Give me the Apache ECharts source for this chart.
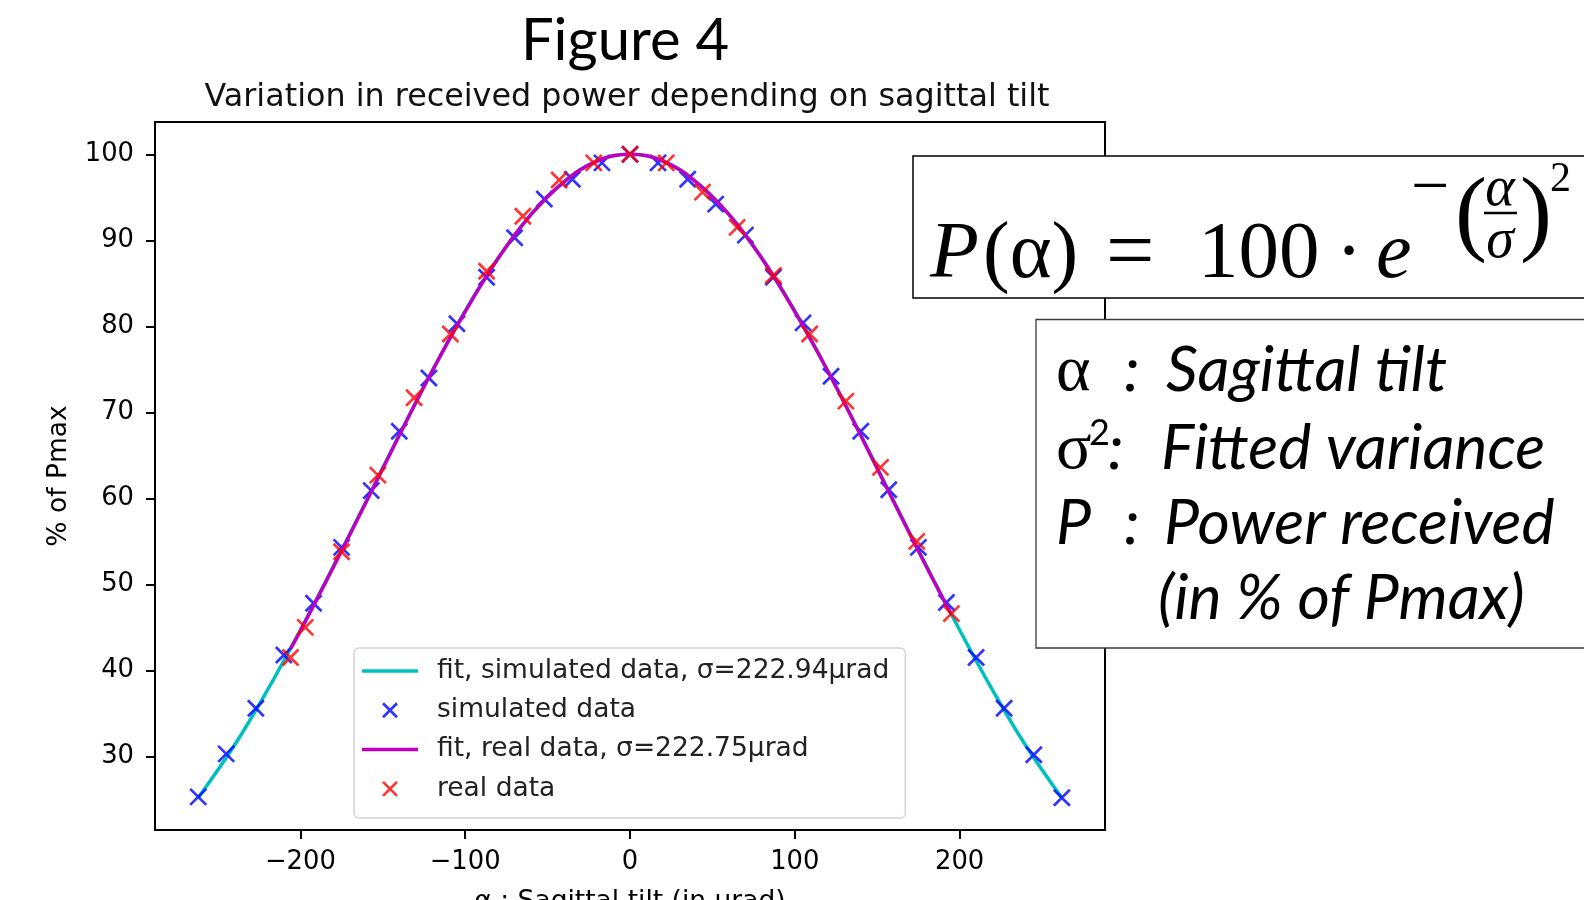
<!DOCTYPE html>
<html>
<head>
<meta charset="utf-8">
<title>Figure 4</title>
<script src="https://cdn.jsdelivr.net/npm/echarts@6/dist/echarts.min.js"></script>
<style>
  html, body { margin: 0; padding: 0; background: #fff; }
  #chart { width: 1584px; height: 900px; }
</style>
</head>
<body>
<div id="chart"></div>
<script>
// simulated data points (blue x)
const simX = [-262, -245, -227, -210, -192, -175, -157, -140, -122, -105, -87, -70, -52, -35, -17, 0,
  17, 35, 52, 70, 87, 105, 122, 140, 157, 175, 192, 210, 227, 245, 262];
const simY = [25.3, 30.3, 35.6, 41.8, 47.8, 54.3, 60.9, 67.8, 74.0, 80.3, 85.7, 90.3, 94.8, 97.1, 99.0, 100,
  99.0, 97.1, 94.2, 90.6, 85.7, 80.4, 74.2, 67.8, 61.0, 54.3, 47.9, 41.5, 35.6, 30.2, 25.2];

// real data points (red x)
const realX = [-206, -197, -175, -153, -131, -109, -87, -65, -43, -22, 0, 22, 44, 65, 87, 109, 131, 152, 174, 195];
const realY = [41.5, 45.0, 53.8, 62.7, 71.7, 79.1, 86.4, 92.8, 97.0, 99.0, 100, 99.0, 95.6, 91.5, 85.9, 79.1, 71.3, 63.6, 55.0, 46.6];

// fitted curves
const fitSimX = [-262, -240, -220, -200, -180, -160, -140, -120, -100, -80, -60, -40, -20, 0,
  20, 40, 60, 80, 100, 120, 140, 160, 180, 200, 220, 240, 262];
const fitSimY = [25.2, 31.3, 37.7, 44.7, 52.1, 59.7, 67.4, 74.8, 81.8, 87.9, 93.0, 96.8, 99.2, 100,
  99.2, 96.8, 93.0, 87.9, 81.8, 74.8, 67.4, 59.7, 52.1, 44.7, 37.7, 31.3, 25.2];
const fitRealX = [-206, -200, -180, -160, -140, -120, -100, -80, -60, -40, -20, 0,
  20, 40, 60, 80, 100, 120, 140, 160, 180, 195];
const fitRealY = [42.5, 44.6, 52.0, 59.6, 67.3, 74.8, 81.7, 87.9, 93.0, 96.8, 99.2, 100,
  99.2, 96.8, 93.0, 87.9, 81.7, 74.8, 67.3, 59.6, 52.0, 46.5];

const xTicks = [-200, -100, 0, 100, 200];
const yTicks = [30, 40, 50, 60, 70, 80, 90, 100];

const seriesNames = [
  'fit, simulated data, σ=222.94µrad',
  'simulated data',
  'fit, real data, σ=222.75µrad',
  'real data',
];

const zip = (xs, ys) => xs.map((x, i) => [x, ys[i]]);
const minus = (v) => String(v).replace('-', '\u2212');
const xMark = 'path://M0,0L10,10M10,0L0,10';
const lineMark = 'path://M0,0L56,0L56,3.5L0,3.5Z';

const tickFont = { fontFamily: 'DejaVu Sans', fontSize: 25.8, color: '#000' };
const nameFont = { fontFamily: 'DejaVu Sans', fontSize: 26.5, color: '#000' };

const chart = echarts.init(document.getElementById('chart'));

const option = {
  animation: false,
  grid: {
    left: 155,
    right: 479,
    top: 122,
    bottom: 70,
    outerBoundsMode: 'none',
    containLabel: false,
    show: true,
    borderColor: '#000',
    borderWidth: 2,
  },
  xAxis: {
    type: 'value',
    min: -288.2,
    max: 288.2,
    name: 'α : Sagittal tilt (in µrad)',
    nameLocation: 'middle',
    nameGap: 59,
    nameTextStyle: nameFont,
    splitLine: { show: false },
    axisLine: { onZero: false, lineStyle: { color: '#000', width: 2 } },
    axisTick: { length: 9, lineStyle: { color: '#000', width: 2 }, customValues: xTicks },
    axisLabel: { ...tickFont, margin: 19, customValues: xTicks, formatter: minus },
  },
  yAxis: {
    type: 'value',
    min: 21.45,
    max: 103.75,
    name: '% of Pmax',
    nameLocation: 'middle',
    nameGap: 82,
    nameTextStyle: nameFont,
    splitLine: { show: false },
    axisLine: { onZero: false, lineStyle: { color: '#000', width: 2 } },
    axisTick: { length: 9, lineStyle: { color: '#000', width: 2 }, customValues: yTicks },
    axisLabel: { ...tickFont, margin: 21, lineHeight: 32, padding: [6, 0, 0, 0], customValues: yTicks },
  },
  legend: {
    orient: 'vertical',
    left: 354,
    top: 648,
    padding: [8, 16, 14, 8],
    itemWidth: 56,
    itemHeight: 14,
    itemGap: 9.3,
    borderColor: '#d4d4d4',
    borderWidth: 1.5,
    borderRadius: 5,
    backgroundColor: 'rgba(255,255,255,0.8)',
    textStyle: { fontFamily: 'DejaVu Sans', fontSize: 26.5, color: '#222', lineHeight: 30, padding: [0, 0, 0, 14] },
    data: [
      { name: seriesNames[0], icon: lineMark },
      { name: seriesNames[1], icon: xMark, itemStyle: { borderColor: '#0000ff', borderWidth: 2.7 } },
      { name: seriesNames[2], icon: lineMark },
      { name: seriesNames[3], icon: xMark, itemStyle: { borderColor: '#ff0000', borderWidth: 2.7 } },
    ],
  },
  series: [
    {
      name: seriesNames[0],
      type: 'line',
      data: zip(fitSimX, fitSimY),
      symbol: 'none',
      smooth: 0.4,
      color: '#00bfbf',
      lineStyle: { color: '#00bfbf', width: 3.5 },
      z: 2,
    },
    {
      name: seriesNames[1],
      type: 'scatter',
      data: zip(simX, simY),
      symbol: xMark,
      symbolSize: 16,
      itemStyle: { color: '#0000ff', borderColor: '#0000ff', borderWidth: 2.7 },
      z: 3,
    },
    {
      name: seriesNames[2],
      type: 'line',
      data: zip(fitRealX, fitRealY),
      symbol: 'none',
      smooth: 0.4,
      color: '#bf00bf',
      lineStyle: { color: '#bf00bf', width: 3.5 },
      z: 4,
    },
    {
      name: seriesNames[3],
      type: 'scatter',
      data: zip(realX, realY),
      symbol: xMark,
      symbolSize: 16,
      itemStyle: { color: '#ff0000', borderColor: '#ff0000', borderWidth: 2.7 },
      z: 5,
    },
  ],
  graphic: [
    // slide title and plot title
    { type: 'text', z: 100, x: 625, y: 41, style: { text: 'Figure 4', font: '58px Lato', fill: '#000', align: 'center', verticalAlign: 'middle' } },
    { type: 'text', z: 100, x: 627, y: 98, style: { text: 'Variation in received power depending on sagittal tilt', font: '31.8px "DejaVu Sans"', fill: '#111', align: 'center', verticalAlign: 'middle' } },

    // formula box
    { type: 'rect', z: 100, shape: { x: 913, y: 156, width: 700, height: 142 }, style: { fill: '#fff', stroke: '#000', lineWidth: 1.5 } },
    { type: 'text', z: 101, x: 930, y: 256, style: { text: 'P', font: 'italic 80px "Liberation Serif"', fill: '#000', verticalAlign: 'middle' } },
    { type: 'text', z: 101, x: 983, y: 256, style: { text: '(α)', font: '80px "Liberation Serif"', fill: '#000', verticalAlign: 'middle' } },
    { type: 'text', z: 101, x: 1106, y: 256, style: { text: '=', font: '86px "Liberation Serif"', fill: '#000', verticalAlign: 'middle' } },
    { type: 'text', z: 101, x: 1198, y: 256, style: { text: '100', font: '81px "Liberation Serif"', fill: '#000', verticalAlign: 'middle' } },
    { type: 'text', z: 101, x: 1349, y: 256, style: { text: '·', font: '80px "Liberation Serif"', fill: '#000', align: 'center', verticalAlign: 'middle' } },
    { type: 'text', z: 101, x: 1376, y: 256, style: { text: 'e', font: 'italic 80px "Liberation Serif"', fill: '#000', verticalAlign: 'middle' } },
    { type: 'text', z: 101, x: 1411, y: 190, style: { text: '\u2212', font: '68px "Liberation Serif"', fill: '#000', verticalAlign: 'middle' } },
    { type: 'text', z: 101, x: 1455, y: 218, style: { text: '(', font: '96px "Liberation Serif"', fill: '#000', verticalAlign: 'middle' } },
    { type: 'text', z: 101, x: 1500, y: 190, style: { text: 'α', font: 'italic 56px "Liberation Serif"', fill: '#000', align: 'center', verticalAlign: 'middle' } },
    { type: 'line', z: 101, shape: { x1: 1484, y1: 213, x2: 1517, y2: 213 }, style: { stroke: '#000', lineWidth: 2.5 } },
    { type: 'text', z: 101, x: 1500, y: 242, style: { text: 'σ', font: 'italic 56px "Liberation Serif"', fill: '#000', align: 'center', verticalAlign: 'middle' } },
    { type: 'text', z: 101, x: 1520, y: 218, style: { text: ')', font: '96px "Liberation Serif"', fill: '#000', verticalAlign: 'middle' } },
    { type: 'text', z: 101, x: 1550, y: 180, style: { text: '2', font: '42px "Liberation Serif"', fill: '#000', verticalAlign: 'middle' } },

    // variable description box
    { type: 'rect', z: 100, shape: { x: 1036, y: 319.5, width: 600, height: 328.5 }, style: { fill: '#fff', stroke: '#3a3a3a', lineWidth: 1.3 } },
    { type: 'text', z: 101, x: 1056, y: 373, style: { text: 'α', font: '66px "Liberation Serif"', fill: '#000', verticalAlign: 'middle' } },
    { type: 'text', z: 101, x: 1124, y: 371, style: { text: ':', font: 'italic 62.5px Lato', fill: '#000', verticalAlign: 'middle' } },
    { type: 'text', z: 101, x: 1166, y: 371, style: { text: 'Sagittal tilt', font: 'italic 62.5px Lato', fill: '#000', verticalAlign: 'middle' } },
    { type: 'text', z: 101, x: 1056, y: 451, style: { text: 'σ', font: '66px "Liberation Serif"', fill: '#000', verticalAlign: 'middle' } },
    { type: 'text', z: 101, x: 1089, y: 433, style: { text: '2', font: '36px Lato', fill: '#000', verticalAlign: 'middle' } },
    { type: 'text', z: 101, x: 1108, y: 449, style: { text: ':', font: 'italic 62.5px Lato', fill: '#000', verticalAlign: 'middle' } },
    { type: 'text', z: 101, x: 1161, y: 449, style: { text: 'Fitted variance', font: 'italic 62.5px Lato', fill: '#000', verticalAlign: 'middle' } },
    { type: 'text', z: 101, x: 1056, y: 524, style: { text: 'P', font: 'italic 62.5px Lato', fill: '#000', verticalAlign: 'middle' } },
    { type: 'text', z: 101, x: 1124, y: 524, style: { text: ':', font: 'italic 62.5px Lato', fill: '#000', verticalAlign: 'middle' } },
    { type: 'text', z: 101, x: 1164, y: 524, style: { text: 'Power received', font: 'italic 62.5px Lato', fill: '#000', verticalAlign: 'middle' } },
    { type: 'text', z: 101, x: 1158, y: 599, style: { text: '(in % of Pmax)', font: 'italic 62.5px Lato', fill: '#000', verticalAlign: 'middle' } },
  ],
};

chart.setOption(option);
window.onresize = () => chart.resize();
</script>
</body>
</html>
